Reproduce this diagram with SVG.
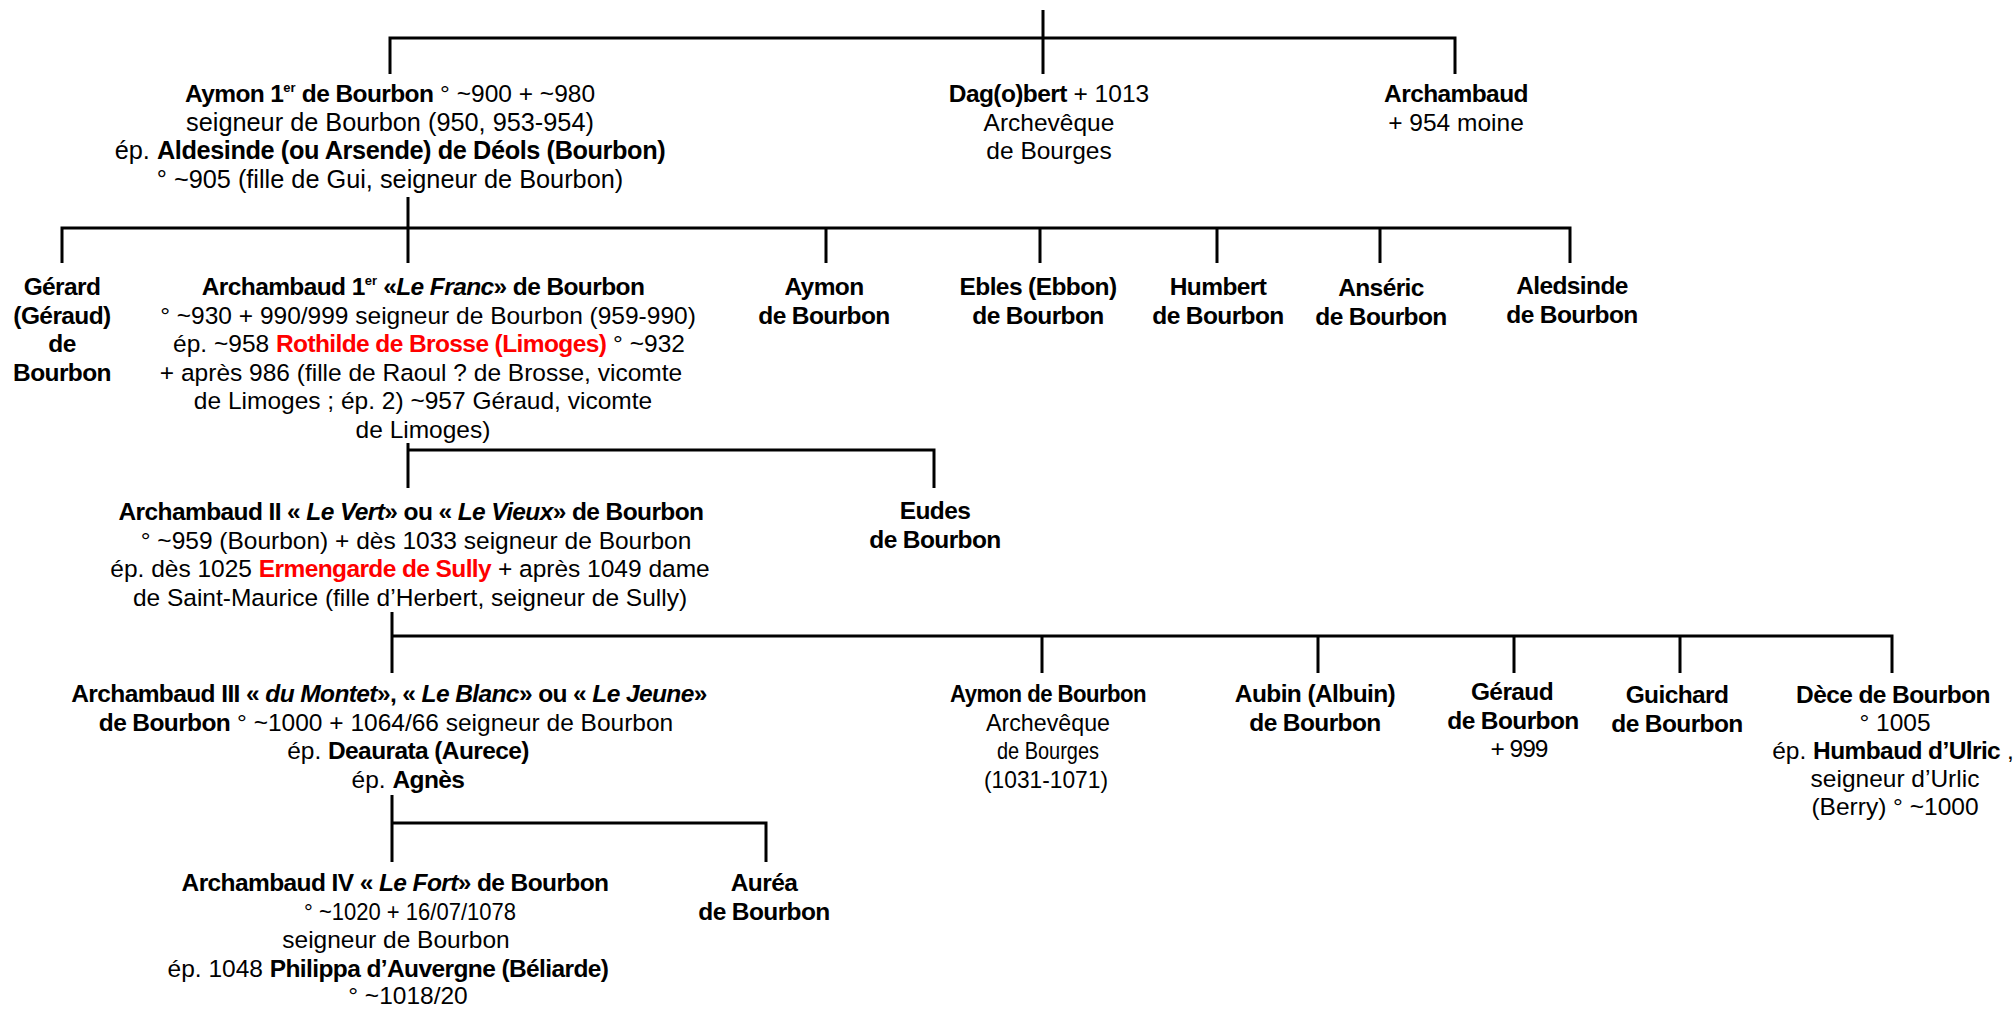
<svg xmlns="http://www.w3.org/2000/svg" width="2013" height="1009" viewBox="0 0 2013 1009">
<style>
text{font-family:"Liberation Sans",Arial,sans-serif;font-size:24.5px;fill:#000;text-anchor:middle}
.b{font-weight:bold;letter-spacing:-0.6px}
.bi{font-weight:bold;font-style:italic;letter-spacing:-0.6px}
.r{fill:#ff0000}
.sup{font-size:13px;font-weight:bold}
.big{font-size:25.3px}
.ln{stroke:#000;stroke-width:3;fill:none}
</style>
<rect width="2013" height="1009" fill="#fff"/>
<g id="connectors" class="ln">
<path d="M1043,10V74M390,74V38H1455V74"/>
<path d="M408,197V228M62,263V228H1570V263M408,228V263M826,228V263M1040,228V263M1217,228V263M1380,228V263"/>
<path d="M408,443V450H934V488M408,450V488"/>
<path d="M392,612V636M392,673V636H1892V673M1042,636V673M1318,636V673M1514,636V673M1680,636V673"/>
<path d="M392,795V823H766V862M392,823V862"/>
</g>
<g id="aymon1">
<text x="390" y="102"><tspan class="b">Aymon 1</tspan><tspan class="sup" dy="-10">er</tspan><tspan class="b" dy="10"> de Bourbon</tspan> ° ~900 + ~980</text>
<text x="390" y="130.5" class="big">seigneur de Bourbon (950, 953-954)</text>
<text x="390" y="159" class="big">ép.  <tspan font-weight="bold" letter-spacing="-0.4">Aldesinde (ou Arsende) de Déols (Bourbon)</tspan></text>
<text x="390" y="187.5" class="big">° ~905 (fille de Gui, seigneur de Bourbon)</text>
</g>
<g id="dagobert">
<text x="1049" y="102"><tspan class="b">Dag(o)bert</tspan> + 1013</text>
<text x="1049" y="130.5">Archevêque</text>
<text x="1049" y="159">de Bourges</text>
</g>
<g id="archambaud">
<text x="1456" y="102" class="b">Archambaud</text>
<text x="1456" y="130.5">+ 954 moine</text>
</g>
<g id="gerard">
<text x="62" y="295" class="b">Gérard</text>
<text x="62" y="323.5" class="b">(Géraud)</text>
<text x="62" y="352" class="b">de</text>
<text x="62" y="380.5" class="b">Bourbon</text>
</g>
<g id="archambaud1">
<text x="423" y="295"><tspan class="b">Archambaud 1</tspan><tspan class="sup" dy="-10">er</tspan><tspan class="b" dy="10"> «</tspan><tspan class="bi">Le Franc</tspan><tspan class="b">» de Bourbon</tspan></text>
<text x="428" y="323.5">° ~930 + 990/999 seigneur de Bourbon (959-990)</text>
<text x="429" y="352">ép. ~958 <tspan class="b r">Rothilde de Brosse (Limoges)</tspan> ° ~932</text>
<text x="421" y="380.5">+ après 986 (fille de Raoul ? de Brosse, vicomte</text>
<text x="423" y="409">de Limoges ; ép. 2) ~957 Géraud, vicomte</text>
<text x="423" y="437.5">de  Limoges)</text>
</g>
<g id="aymon2">
<text x="824" y="295" class="b">Aymon</text>
<text x="824" y="323.5" class="b">de Bourbon</text>
</g>
<g id="ebles">
<text x="1038" y="295" class="b">Ebles (Ebbon)</text>
<text x="1038" y="323.5" class="b">de Bourbon</text>
</g>
<g id="humbert">
<text x="1218" y="295" class="b">Humbert</text>
<text x="1218" y="323.5" class="b">de Bourbon</text>
</g>
<g id="anseric">
<text x="1381" y="296" class="b">Anséric</text>
<text x="1381" y="324.5" class="b">de Bourbon</text>
</g>
<g id="aledsinde">
<text x="1572" y="294" class="b">Aledsinde</text>
<text x="1572" y="322.5" class="b">de Bourbon</text>
</g>
<g id="archambaud2">
<text x="411" y="520"><tspan class="b">Archambaud II « </tspan><tspan class="bi">Le Vert</tspan><tspan class="b">» ou « </tspan><tspan class="bi">Le Vieux</tspan><tspan class="b">» de Bourbon</tspan></text>
<text x="416" y="548.5">° ~959 (Bourbon) + dès 1033 seigneur de Bourbon</text>
<text x="410" y="577">ép. dès 1025  <tspan class="b r">Ermengarde de Sully</tspan> + après 1049 dame</text>
<text x="410" y="605.5">de Saint-Maurice (fille d’Herbert, seigneur de Sully)</text>
</g>
<g id="eudes">
<text x="935" y="519" class="b">Eudes</text>
<text x="935" y="547.5" class="b">de Bourbon</text>
</g>
<g id="archambaud3">
<text x="389" y="702"><tspan class="b">Archambaud III « </tspan><tspan class="bi">du Montet</tspan><tspan class="b">», « </tspan><tspan class="bi">Le Blanc</tspan><tspan class="b">» ou « </tspan><tspan class="bi">Le Jeune</tspan><tspan class="b">»</tspan></text>
<text x="386" y="730.5"><tspan class="b">de Bourbon</tspan> ° ~1000 + 1064/66 seigneur de Bourbon</text>
<text x="408" y="759">ép. <tspan class="b">Deaurata (Aurece)</tspan></text>
<text x="408" y="787.5">ép. <tspan class="b">Agnès</tspan></text>
</g>
<g id="aymon3">
<text x="1048" y="702" class="b" textLength="196" lengthAdjust="spacingAndGlyphs">Aymon de Bourbon</text>
<text x="1048" y="730.5" textLength="124" lengthAdjust="spacingAndGlyphs">Archevêque</text>
<text x="1048" y="759" textLength="102" lengthAdjust="spacingAndGlyphs">de  Bourges</text>
<text x="1046" y="787.5" textLength="124" lengthAdjust="spacingAndGlyphs">(1031-1071)</text>
</g>
<g id="aubin">
<text x="1315" y="702" class="b">Aubin (Albuin)</text>
<text x="1315" y="730.5" class="b">de Bourbon</text>
</g>
<g id="geraud">
<text x="1512" y="700" class="b">Géraud</text>
<text x="1513" y="728.5" class="b">de Bourbon</text>
<text x="1519" y="757" letter-spacing="-1">+ 999</text>
</g>
<g id="guichard">
<text x="1677" y="703" class="b">Guichard</text>
<text x="1677" y="731.5" class="b">de Bourbon</text>
</g>
<g id="dece">
<text x="1893" y="703" class="b">Dèce de Bourbon</text>
<text x="1895" y="731">° 1005</text>
<text x="1893" y="759">ép. <tspan class="b">Humbaud d’Ulric</tspan> ,</text>
<text x="1895" y="787">seigneur d’Urlic</text>
<text x="1895" y="815">(Berry) ° ~1000</text>
</g>
<g id="archambaud4">
<text x="395" y="891"><tspan class="b">Archambaud IV « </tspan><tspan class="bi">Le Fort</tspan><tspan class="b">» de Bourbon</tspan></text>
<text x="410" y="919.5" textLength="212" lengthAdjust="spacingAndGlyphs">° ~1020 + 16/07/1078</text>
<text x="396" y="948">seigneur de Bourbon</text>
<text x="388" y="976.5">ép. 1048 <tspan class="b">Philippa d’Auvergne (Béliarde)</tspan></text>
<text x="408" y="1004">° ~1018/20</text>
</g>
<g id="aurea">
<text x="764" y="891" class="b">Auréa</text>
<text x="764" y="919.5" class="b">de Bourbon</text>
</g>
</svg>
